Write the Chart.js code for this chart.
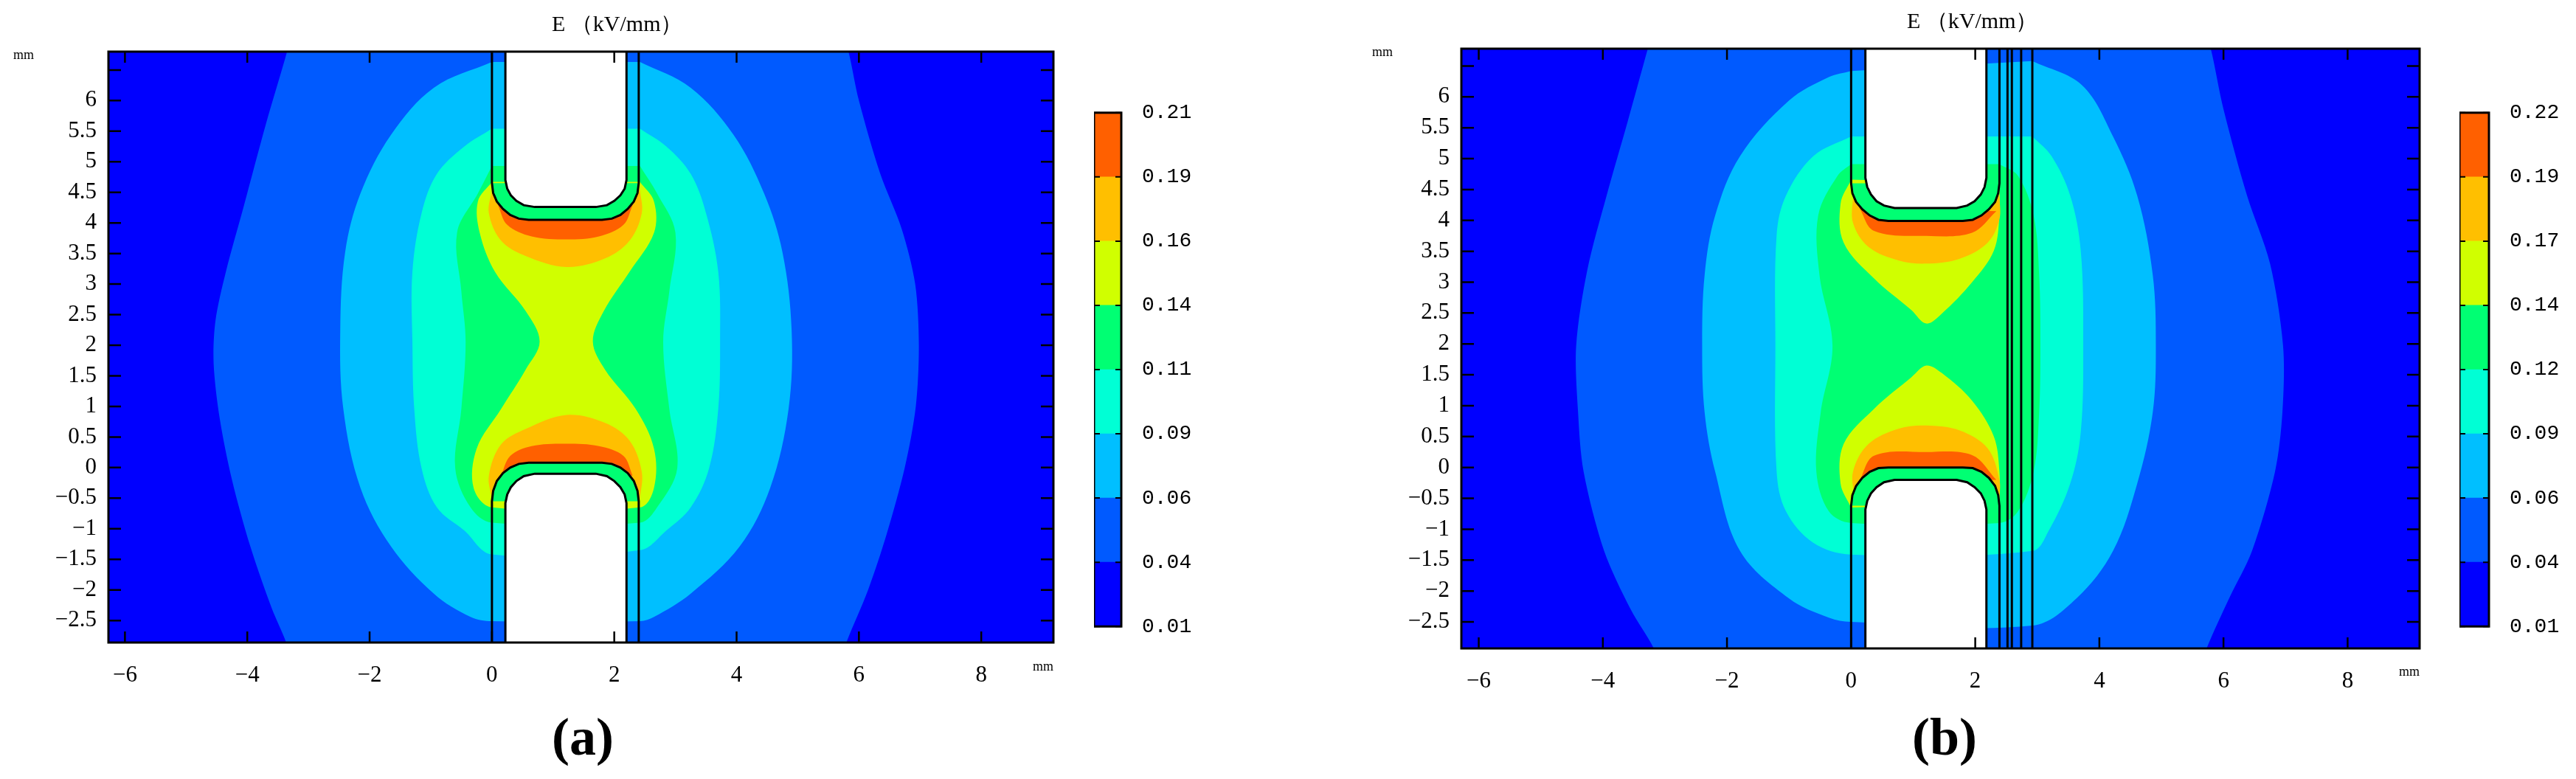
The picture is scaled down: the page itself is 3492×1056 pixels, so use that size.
<!DOCTYPE html>
<html><head><meta charset="utf-8">
<script src="https://cdn.jsdelivr.net/npm/chart.js@4"></script>
<style>
body{margin:0;width:3492px;height:1056px;background:#fff;position:relative;overflow:hidden;font-family:'Liberation Serif',serif}
canvas{position:absolute}
.t{position:absolute;white-space:nowrap;color:#000}
</style></head><body>
<script>
// ---------- data ----------
const levelColors = ['#0000FF','#005AFF','#00BFFF','#00FFD5','#00FF73','#D0FF00','#FFBF00','#FF6000'];
const cbarLabelsA = ['0.01','0.04','0.06','0.09','0.11','0.14','0.16','0.19','0.21'];
const cbarLabelsB = ['0.01','0.04','0.06','0.09','0.12','0.14','0.17','0.19','0.22'];
const xTickValues = [-6,-4,-2,0,2,4,6,8];
const yTickValues = [-2.5,-2,-1.5,-1,-0.5,0,0.5,1,1.5,2,2.5,3,3.5,4,4.5,5,5.5,6,6.5];
const yTickLabels = ['-2.5','-2','-1.5','-1','-0.5','0','0.5','1','1.5','2','2.5','3','3.5','4','4.5','5','5.5','6',''];

// panel (a) contour boundaries
const a_L1 = [[-3.2,7.4],[-3.35,6.8],[-3.7,5.6],[-4.05,4.3],[-4.35,3.2],[-4.52,2.4],[-4.55,1.7],[-4.45,0.8],[-4.25,-0.2],[-3.95,-1.29],[-3.6,-2.3],[-3.35,-2.9],[-3.2,-3.5],
  [5.6,-3.5],[5.78,-2.9],[6.15,-2.0],[6.45,-1.1],[6.75,0],[6.93,1.0],[6.98,2.0],[6.92,3.0],[6.7,3.9],[6.35,4.8],[6.0,6.0],[5.83,6.8],[5.65,7.4]];
const a_L2 = [[0,6.63],[-0.95,6.21],[-1.65,5.44],[-2.15,4.48],[-2.40,3.52],[-2.48,2.24],[-2.43,0.96],[-2.15,-0.33],[-1.65,-1.29],[-0.95,-2.06],[-0.35,-2.44],[0,-2.51],[2.42,-2.51],[2.65,-2.44],[3.25,-2.06],[4.05,-1.29],[4.55,-0.33],[4.85,0.96],[4.90,2.24],[4.75,3.52],[4.45,4.48],[3.95,5.44],[3.25,6.21],[2.42,6.63]];
const a_L3 = [[0,5.54],[-0.45,5.25],[-0.90,4.80],[-1.15,4.16],[-1.30,3.20],[-1.30,2.05],[-1.27,0.96],[-1.15,-0.01],[-0.90,-0.65],[-0.45,-1.03],[0,-1.42],[2.42,-1.35],[2.85,-1.03],[3.25,-0.65],[3.55,-0.01],[3.70,0.96],[3.73,2.05],[3.70,3.20],[3.50,4.16],[3.25,4.80],[2.85,5.25],[2.42,5.54]];
const a_L4 = [[0,4.93],[-0.23,4.48],[-0.57,3.84],[-0.50,2.88],[-0.43,2.05],[-0.50,0.96],[-0.60,-0.01],[-0.35,-0.65],[0,-0.90],[2.42,-0.90],[2.70,-0.65],[3.03,-0.01],[2.90,0.96],[2.80,2.05],[2.90,2.88],[3.00,3.84],[2.70,4.48],[2.42,4.93]];
const a_L5 = [[0,4.67],[-0.23,4.35],[-0.20,3.84],[0.05,3.20],[0.55,2.56],[0.78,2.06],[0.55,1.60],[0.15,0.96],[-0.25,0.31],[-0.30,-0.33],[0,-0.65],[2.42,-0.65],[2.65,-0.33],[2.65,0.31],[2.35,0.96],[1.85,1.60],[1.65,2.06],[1.83,2.56],[2.25,3.20],[2.65,3.84],[2.65,4.35],[2.42,4.67]];
const a_L6up = [[0,4.54],[-0.05,4.16],[0.15,3.71],[0.55,3.46],[1.22,3.28],[1.85,3.42],[2.25,3.71],[2.45,4.16],[2.42,4.54]];
const a_L6lo = [[0,-0.52],[-0.05,-0.13],[0.15,0.38],[0.55,0.63],[1.22,0.86],[1.85,0.73],[2.25,0.44],[2.45,-0.07],[2.42,-0.52]];
const a_L7up = [[0.10,4.29],[0.25,3.97],[0.65,3.78],[1.22,3.73],[1.75,3.78],[2.15,3.97],[2.30,4.29]];
const a_L7lo = [[0.15,-0.13],[0.30,0.19],[0.65,0.35],[1.22,0.39],[1.75,0.35],[2.15,0.19],[2.30,-0.13]];
const a_upOuter = [[0,6.8],[0,4.65],[0.02,4.49],[0.08,4.35],[0.18,4.23],[0.3,4.13],[0.44,4.07],[0.6,4.05],[1.8,4.05],[1.96,4.07],[2.1,4.13],[2.22,4.23],[2.32,4.35],[2.38,4.49],[2.4,4.65],[2.4,6.8]];
const a_upInner = [[0.22,6.8],[0.22,4.7],[0.25,4.56],[0.31,4.45],[0.4,4.36],[0.52,4.29],[0.7,4.26],[1.7,4.26],[1.88,4.29],[2.0,4.36],[2.1,4.45],[2.17,4.56],[2.2,4.7],[2.2,6.8]];
const a_loOuter = [[0,-2.9],[0,-0.55],[0.02,-0.38],[0.08,-0.22],[0.18,-0.09],[0.3,0.0],[0.44,0.06],[0.6,0.08],[1.8,0.08],[1.96,0.06],[2.1,0.0],[2.22,-0.09],[2.32,-0.22],[2.38,-0.38],[2.4,-0.55],[2.4,-2.9]];
const a_loInner = [[0.22,-2.9],[0.22,-0.58],[0.25,-0.44],[0.31,-0.32],[0.4,-0.22],[0.52,-0.14],[0.7,-0.1],[1.7,-0.1],[1.88,-0.14],[2.0,-0.22],[2.1,-0.32],[2.17,-0.44],[2.2,-0.58],[2.2,-2.9]];
const a_extraLines = [];

// panel (b)
const b_L1 = [[-3.1,7.4],[-3.27,6.8],[-3.6,5.6],[-3.94,4.40],[-4.25,3.2],[-4.43,1.97],[-4.4,0.9],[-4.31,-0.07],[-3.98,-1.35],[-3.55,-2.3],[-3.17,-2.95],[-3.0,-3.5],
  [5.55,-3.5],[5.72,-2.95],[6.1,-2.1],[6.46,-1.35],[6.83,-0.07],[6.95,0.9],[6.96,1.97],[6.75,3.3],[6.38,4.40],[6.0,5.8],[5.79,6.8],[5.6,7.4]];
const b_L2 = [[0,6.42],[-0.36,6.32],[-1.00,5.94],[-1.79,5.04],[-2.19,4.08],[-2.36,3.12],[-2.40,1.97],[-2.36,0.89],[-2.19,-0.07],[-1.79,-1.35],[-1.00,-2.12],[-0.36,-2.43],[0,-2.50],[2.92,-2.56],[3.63,-2.12],[4.22,-1.35],[4.61,-0.26],[4.86,0.89],[4.91,1.97],[4.86,3.12],[4.61,4.40],[4.22,5.36],[3.72,6.19],[2.92,6.58]];
const b_L3 = [[0,5.36],[-0.61,5.04],[-1.05,4.40],[-1.20,3.76],[-1.22,1.97],[-1.20,-0.07],[-1.05,-0.71],[-0.61,-1.22],[0,-1.41],[2.92,-1.35],[3.18,-1.03],[3.53,-0.26],[3.70,0.57],[3.74,1.97],[3.70,3.51],[3.53,4.40],[3.23,5.04],[2.92,5.36]];
const b_L4 = [[0,4.91],[-0.22,4.72],[-0.53,4.08],[-0.51,3.12],[-0.30,1.97],[-0.49,0.89],[-0.56,-0.07],[-0.36,-0.71],[0,-0.90],[2.39,-0.90],[2.69,-0.71],[2.94,-0.07],[3.03,0.89],[3.05,1.97],[3.03,3.12],[2.94,4.08],[2.69,4.72],[2.39,4.91]];
const b_L5up = [[0,4.66],[-0.17,4.27],[-0.12,3.64],[0.37,3.06],[0.97,2.55],[1.21,2.33],[1.46,2.49],[1.95,3.00],[2.30,3.51],[2.39,4.08],[2.39,4.59]];
const b_L5lo = [[0,-0.65],[-0.17,-0.26],[-0.12,0.38],[0.37,0.95],[0.97,1.46],[1.21,1.65],[1.46,1.53],[1.95,1.08],[2.30,0.50],[2.39,-0.07],[2.39,-0.58]];
const b_L6up = [[0.03,4.40],[0.03,3.96],[0.28,3.57],[0.77,3.35],[1.21,3.30],[1.75,3.38],[2.20,3.64],[2.39,4.02],[2.39,4.40]];
const b_L6lo = [[0.06,-0.52],[0.03,-0.07],[0.28,0.38],[0.77,0.63],[1.21,0.68],[1.75,0.60],[2.20,0.31],[2.39,-0.20],[2.39,-0.52]];
const b_L7up = [[0.13,4.21],[0.37,3.83],[1.21,3.75],[1.95,3.80],[2.34,4.15]];
const b_L7lo = [[0.13,-0.23],[0.37,0.19],[1.21,0.25],[1.95,0.20],[2.34,-0.20]];
const b_upOuter = [[0,6.8],[0,4.6],[0.02,4.44],[0.08,4.30],[0.18,4.18],[0.3,4.08],[0.44,4.01],[0.6,3.99],[1.8,3.99],[1.96,4.01],[2.1,4.08],[2.22,4.18],[2.32,4.30],[2.37,4.44],[2.39,4.6],[2.39,6.8]];
const b_upInner = [[0.23,6.8],[0.23,4.69],[0.26,4.54],[0.32,4.42],[0.41,4.31],[0.53,4.24],[0.7,4.2],[1.7,4.2],[1.87,4.24],[1.99,4.31],[2.09,4.42],[2.15,4.54],[2.18,4.69],[2.18,6.8]];
const b_loOuter = [[0,-2.95],[0,-0.62],[0.02,-0.45],[0.08,-0.30],[0.18,-0.17],[0.3,-0.07],[0.44,-0.01],[0.6,0.0],[1.8,0.0],[1.96,-0.01],[2.1,-0.07],[2.22,-0.17],[2.32,-0.30],[2.37,-0.45],[2.39,-0.62],[2.39,-2.95]];
const b_loInner = [[0.23,-2.95],[0.23,-0.68],[0.26,-0.54],[0.32,-0.42],[0.41,-0.32],[0.53,-0.24],[0.7,-0.2],[1.7,-0.2],[1.87,-0.24],[1.99,-0.32],[2.09,-0.42],[2.15,-0.54],[2.18,-0.68],[2.18,-2.95]];
const b_extraLines = [2.52,2.59,2.74,2.92];

// ---------- helpers ----------
Chart.defaults.animation = false;
Chart.defaults.devicePixelRatio = 1;
Chart.defaults.elements.line.capBezierPoints = false;
const pts = a => a.map(p => ({x:p[0], y:p[1]}));
function poly(arr, color, tension){ return {data:pts(arr), showLine:true, pointRadius:0, borderWidth:0, borderColor:color, backgroundColor:color, fill:'shape', capBezierPoints:false, tension:tension===undefined?0.35:tension}; }
function outline(arr){ return {data:pts(arr), showLine:true, pointRadius:0, borderWidth:3, borderColor:'#000', fill:false, tension:0}; }
function capPoly(outer){ return outer.slice(1, outer.length-1); }

const frame = {
  id:'frame',
  beforeDraw(c){ const a=c.chartArea, x=c.ctx; x.save(); x.fillStyle=levelColors[0]; x.fillRect(a.left,a.top,a.right-a.left,a.bottom-a.top); x.restore(); },
  afterDraw(c){
    const a=c.chartArea, x=c.ctx; x.save(); x.strokeStyle='#000'; x.lineWidth=3;
    x.strokeRect(a.left,a.top,a.right-a.left,a.bottom-a.top);
    x.lineWidth=2.5; x.beginPath();
    c.scales.x.ticks.forEach(t=>{ const p=c.scales.x.getPixelForValue(t.value); x.moveTo(p,a.bottom); x.lineTo(p,a.bottom-15); x.moveTo(p,a.top); x.lineTo(p,a.top+15); });
    c.scales.y.ticks.forEach(t=>{ const p=c.scales.y.getPixelForValue(t.value); x.moveTo(a.left,p); x.lineTo(a.left+17,p); x.moveTo(a.right,p); x.lineTo(a.right-17,p); });
    x.stroke(); x.restore();
  }
};

function makePanel(id, left, top, w, h, plotL, plotR, plotT, plotB, xr, yr, L, el, extra){
  const cv=document.createElement('canvas'); cv.id=id; cv.width=w; cv.height=h;
  cv.style.left=left+'px'; cv.style.top=top+'px'; cv.style.width=w+'px'; cv.style.height=h+'px';
  document.body.appendChild(cv);
  const bottomFirst = [];
  bottomFirst.push(poly(L[0], levelColors[1], 0.3));
  bottomFirst.push(poly(L[1], levelColors[2]));
  bottomFirst.push(poly(L[2], levelColors[3]));
  bottomFirst.push(poly(L[3], levelColors[4]));
  L[4].forEach(p=>bottomFirst.push(poly(p, levelColors[5])));
  L[5].forEach(p=>bottomFirst.push(poly(p, levelColors[6])));
  L[6].forEach(p=>bottomFirst.push(poly(p, levelColors[7])));
  bottomFirst.push(poly(capPoly(el[0]), levelColors[4], 0));
  bottomFirst.push(poly(capPoly(el[2]), levelColors[4], 0));
  bottomFirst.push(poly(el[1], '#FFFFFF', 0));
  bottomFirst.push(poly(el[3], '#FFFFFF', 0));
  el.forEach(e=>bottomFirst.push(outline(e)));
  extra.forEach(v=>bottomFirst.push(outline([[v,yr[0]],[v,yr[1]]])));
  const datasets = bottomFirst.reverse();
  new Chart(cv, {
    type:'scatter',
    data:{datasets},
    options:{
      responsive:false, events:[],
      layout:{padding:{top:plotT-top, right:(left+w)-plotR, left:0, bottom:0}},
      plugins:{legend:{display:false}, tooltip:{enabled:false}},
      scales:{
        x:{type:'linear', min:xr[0], max:xr[1], grid:{display:false}, border:{display:false},
           afterBuildTicks:s=>{s.ticks=xTickValues.map(v=>({value:v}));},
           afterFit:s=>{s.height=(top+h)-plotB;},
           ticks:{padding:18, color:'#000', font:{family:'Liberation Serif', size:31}, callback:v=>String(v).replace('-','−')}},
        y:{type:'linear', min:yr[0], max:yr[1], grid:{display:false}, border:{display:false},
           afterBuildTicks:s=>{s.ticks=yTickValues.map(v=>({value:v}));},
           afterFit:s=>{s.width=plotL-left;},
           ticks:{padding:8, color:'#000', font:{family:'Liberation Serif', size:31},
             callback:(v,i)=>yTickLabels[i].replace('-','−')}}
      }
    },
    plugins:[frame]
  });
}

const cbFrame = {
  id:'cbFrame',
  afterDraw(c){ const a=c.chartArea, x=c.ctx; x.save(); x.strokeStyle='#000'; x.lineWidth=3;
    x.strokeRect(a.left,a.top,a.right-a.left,a.bottom-a.top);
    x.lineWidth=2; x.beginPath();
    c.scales.y.ticks.forEach(t=>{ const p=c.scales.y.getPixelForValue(t.value); x.moveTo(a.left,p); x.lineTo(a.left+8,p); x.moveTo(a.right,p); x.lineTo(a.right-8,p); });
    x.stroke(); x.restore(); }
};
function makeColorbar(id, left, top, barW, barH, labels){
  const padT=30, w=200, h=barH+2*padT;
  const cv=document.createElement('canvas'); cv.id=id; cv.width=w; cv.height=h;
  cv.style.left=left+'px'; cv.style.top=(top-padT)+'px'; cv.style.width=w+'px'; cv.style.height=h+'px';
  document.body.appendChild(cv);
  new Chart(cv,{
    type:'bar',
    data:{labels:[''], datasets: levelColors.map(c=>({data:[1], backgroundColor:c, borderWidth:0, barPercentage:1, categoryPercentage:1}))},
    options:{responsive:false, events:[],
      layout:{padding:{top:padT,bottom:padT,left:0,right:0}},
      plugins:{legend:{display:false},tooltip:{enabled:false}},
      scales:{
        x:{display:false, stacked:true},
        y:{stacked:true, position:'right', min:0, max:8, grid:{display:false}, border:{display:false},
           afterBuildTicks:s=>{s.ticks=labels.map((l,i)=>({value:i}));},
           afterFit:s=>{s.width=w-barW;},
           ticks:{padding:20, color:'#000', font:{family:'Liberation Mono', size:28}, callback:(v,i)=>labels[i]}}
      }},
    plugins:[cbFrame]
  });
}

makePanel('pa', 0, 0, 1440, 960, 147, 1428, 70, 871, [-6.27,9.18], [-2.86,6.8],
  [a_L1,a_L2,a_L3,a_L4,[a_L5],[a_L6up,a_L6lo],[a_L7up,a_L7lo]], [a_upOuter,a_upInner,a_loOuter,a_loInner], a_extraLines);
makePanel('pb', 1834, 0, 1458, 960, 1981, 3280, 66, 879, [-6.28,9.16], [-2.93,6.78],
  [b_L1,b_L2,b_L3,b_L4,[b_L5up,b_L5lo],[b_L6up,b_L6lo],[b_L7up,b_L7lo]], [b_upOuter,b_upInner,b_loOuter,b_loInner], b_extraLines);
makeColorbar('ca', 1483, 146, 37, 710, cbarLabelsA);
makeColorbar('cb', 3334, 146, 40, 710, cbarLabelsB);
</script>
<div class="t" style="left:748px;top:12px;font-size:30px;">E （kV/mm）</div>
<div class="t" style="left:2585px;top:8px;font-size:30px;">E （kV/mm）</div>
<div class="t" style="left:18px;top:64px;font-size:18px;">mm</div>
<div class="t" style="left:1860px;top:60px;font-size:18px;">mm</div>
<div class="t" style="left:1400px;top:893px;font-size:18px;">mm</div>
<div class="t" style="left:3252px;top:900px;font-size:18px;">mm</div>
<div class="t" style="left:748px;top:958px;font-size:72px;font-weight:bold;">(a)</div>
<div class="t" style="left:2592px;top:958px;font-size:72px;font-weight:bold;">(b)</div>
</body></html>
